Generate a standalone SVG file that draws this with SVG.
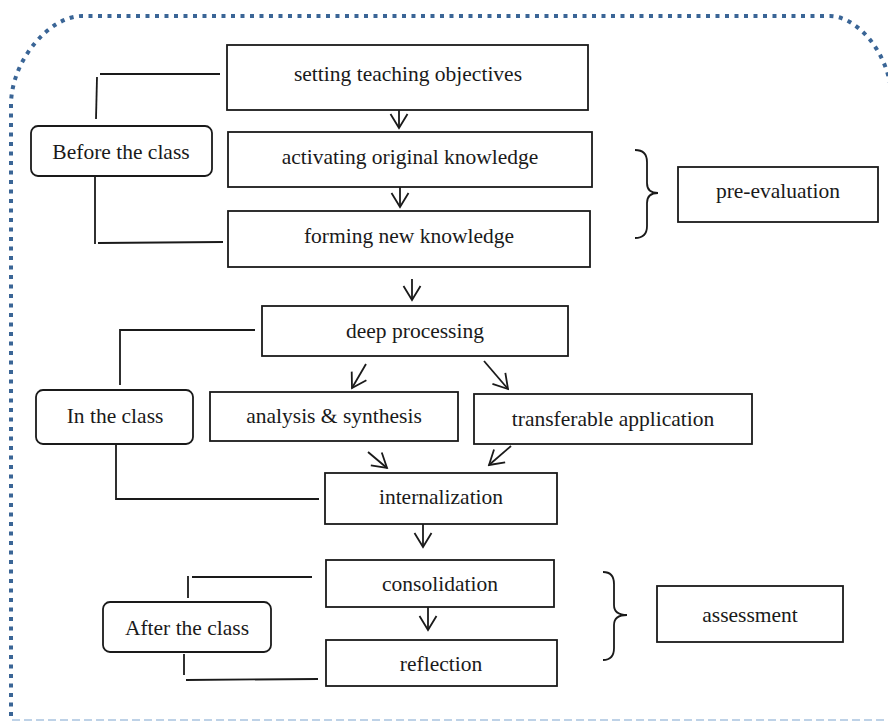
<svg xmlns="http://www.w3.org/2000/svg" width="888" height="721" viewBox="0 0 888 721">
<defs>
<style>
.box{fill:#fff;stroke:#1a1a1a;stroke-width:1.8}
.t{font-family:"Liberation Serif","DejaVu Serif",serif;font-size:21.5px;fill:#1a1a1a;text-anchor:middle}
.ln{fill:none;stroke:#1a1a1a;stroke-width:1.8}
.ar{fill:none;stroke:#1a1a1a;stroke-width:1.8;marker-end:url(#v)}
</style>
<marker id="v" viewBox="-16 -11 18 22" markerWidth="18" markerHeight="22" refX="0" refY="0" orient="auto" markerUnits="userSpaceOnUse">
<path d="M -14 -8.5 L 0 0 L -14 8.5" fill="none" stroke="#1a1a1a" stroke-width="1.8"/>
</marker>
</defs>
<rect width="888" height="721" fill="#fff"/>
<g id="frame">
<path d="M 11 716 L 11 105 C 11 60 50 16 82 16 L 830 16 C 855 16 890 50 892 100 L 892 716" fill="none" stroke="#3a6596" stroke-width="4" stroke-dasharray="4 5.5"/>
<line x1="12" y1="720" x2="888" y2="720" stroke="#a9c3df" stroke-width="1.5" stroke-dasharray="8 4"/>
</g>
<g id="connectors">
<path class="ln" d="M 100 74 L 220 74"/>
<path class="ln" d="M 97 77 L 96 119"/>
<path class="ln" d="M 95 177 L 95 244"/>
<path class="ln" d="M 98 243 L 223 242"/>
<path class="ln" d="M 120 385 L 120 330 L 255 330"/>
<path class="ln" d="M 116 444 L 116 499 L 319 499"/>
<path class="ln" d="M 192 577 L 312 577"/>
<path class="ln" d="M 188 576 L 188 598"/>
<path class="ln" d="M 184 654 L 184 675"/>
<path class="ln" d="M 186 680 L 318 679"/>
<line class="ar" x1="399" y1="106" x2="399" y2="128"/>
<line class="ar" x1="400" y1="186" x2="400" y2="207"/>
<line class="ar" x1="412" y1="279" x2="412" y2="300"/>
<line class="ar" x1="366" y1="364" x2="352" y2="388"/>
<line class="ar" x1="484" y1="361" x2="508" y2="389"/>
<line class="ar" x1="368" y1="452" x2="387" y2="468"/>
<line class="ar" x1="511" y1="446" x2="489" y2="465"/>
<line class="ar" x1="423" y1="524" x2="423" y2="547"/>
<line class="ar" x1="428" y1="607" x2="428" y2="630"/>
<path class="ln" d="M 635 150 Q 647 150 647 162 L 647 183 Q 647 193 658 193 Q 647 193 647 203 L 647 226 Q 647 238 635 238"/>
<path class="ln" d="M 603 572 Q 614 572 614 584 L 614 605 Q 614 615 627 615 Q 614 615 614 625 L 614 648 Q 614 660 603 660"/>
</g>
<g id="n-setting"><rect class="box" x="227" y="45" width="361" height="65"/><text class="t" x="408" y="81">setting teaching objectives</text></g>
<g id="n-activating"><rect class="box" x="228" y="132" width="364" height="55"/><text class="t" x="410" y="164">activating original knowledge</text></g>
<g id="n-forming"><rect class="box" x="228" y="211" width="362" height="56"/><text class="t" x="409" y="243">forming new knowledge</text></g>
<g id="n-before"><rect class="box" x="31" y="126" width="181" height="50" rx="7"/><text class="t" x="121" y="159">Before the class</text></g>
<g id="n-pre"><rect class="box" x="678" y="167" width="200" height="55"/><text class="t" x="778" y="198">pre-evaluation</text></g>
<g id="n-deep"><rect class="box" x="262" y="306" width="306" height="50"/><text class="t" x="415" y="338">deep processing</text></g>
<g id="n-in"><rect class="box" x="36" y="390" width="157" height="54" rx="7"/><text class="t" x="115" y="423">In the class</text></g>
<g id="n-analysis"><rect class="box" x="210" y="392" width="248" height="49"/><text class="t" x="334" y="423">analysis &amp; synthesis</text></g>
<g id="n-transfer"><rect class="box" x="474" y="394" width="278" height="50"/><text class="t" x="613" y="426">transferable application</text></g>
<g id="n-intern"><rect class="box" x="325" y="473" width="232" height="51"/><text class="t" x="441" y="504">internalization</text></g>
<g id="n-consol"><rect class="box" x="326" y="560" width="228" height="47"/><text class="t" x="440" y="591">consolidation</text></g>
<g id="n-reflect"><rect class="box" x="326" y="640" width="231" height="46"/><text class="t" x="441" y="671">reflection</text></g>
<g id="n-after"><rect class="box" x="103" y="602" width="168" height="50" rx="7"/><text class="t" x="187" y="635">After the class</text></g>
<g id="n-assess"><rect class="box" x="657" y="586" width="186" height="56"/><text class="t" x="750" y="622">assessment</text></g>
</svg>
